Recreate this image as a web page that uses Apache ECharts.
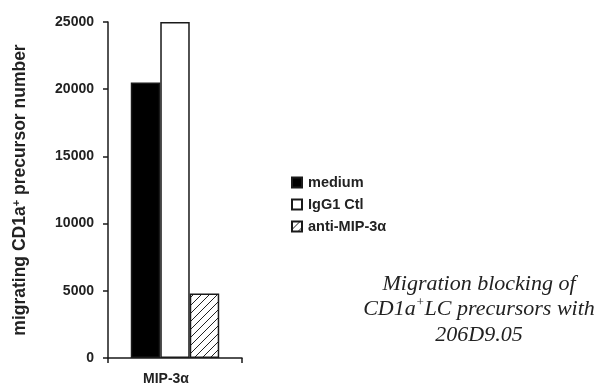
<!DOCTYPE html>
<html>
<head>
<meta charset="utf-8">
<script src="https://cdn.jsdelivr.net/npm/echarts@6/dist/echarts.min.js"></script>
<style>html,body{margin:0;padding:0;background:#fff;}#c{width:603px;height:387px;}</style>
</head>
<body>
<div id="c"></div>
<script>
const categories = ['MIP-3α'];
const seriesNames = ['medium', 'IgG1 Ctl', 'anti-MIP-3α'];
const mediumValues = [20500];
const iggValues = [25000];
const antiValues = [4800];
const yTicks = [0, 5000, 10000, 15000, 20000, 25000];

function hatch() {
  const s = 8;
  const cv = document.createElement('canvas');
  cv.width = s; cv.height = s;
  const ctx = cv.getContext('2d');
  ctx.fillStyle = '#fff';
  ctx.fillRect(0, 0, s, s);
  ctx.strokeStyle = '#222';
  ctx.lineWidth = 1;
  ctx.beginPath();
  ctx.moveTo(0, s); ctx.lineTo(s, 0);
  ctx.moveTo(-s / 2, s / 2); ctx.lineTo(s / 2, -s / 2);
  ctx.moveTo(s / 2, s * 1.5); ctx.lineTo(s * 1.5, s / 2);
  ctx.stroke();
  return { image: cv, repeat: 'repeat' };
}

const chart = echarts.init(document.getElementById('c'), null, { renderer: 'canvas' });
const sans = 'Liberation Sans, Arial, sans-serif';
const border = { borderColor: '#1a1a1a', borderWidth: 1.5 };
chart.setOption({
  animation: false,
  backgroundColor: '#fff',
  grid: { left: 108, right: 361, top: 22, bottom: 29, containLabel: false },
  title: {
    text: 'Migration blocking of\nCD1a{sup|+}LC precursors with\n206D9.05',
    left: 474, top: 266, textAlign: 'center',
    textStyle: {
      fontFamily: 'Liberation Serif, Times New Roman, serif',
      fontStyle: 'italic', fontWeight: 'normal', fontSize: 22, lineHeight: 25.5, color: '#222',
      rich: {
        sup: { fontFamily: 'Liberation Serif, serif', fontStyle: 'italic', fontSize: 13, verticalAlign: 'top', lineHeight: 25.5, padding: [0, 0, 7, 0], color: '#222' }
      }
    }
  },
  legend: {
    orient: 'vertical', left: 286, top: 170,
    itemWidth: 10, itemHeight: 10, itemGap: 7,
    icon: 'rect',
    data: seriesNames,
    textStyle: { fontFamily: sans, fontWeight: 'bold', fontSize: 14.5, color: '#222', padding: [0, 0, 0, 1] }
  },
  xAxis: {
    type: 'category', data: categories,
    axisLine: { lineStyle: { color: '#1a1a1a', width: 1.5 } },
    axisTick: { show: true, length: 5, lineStyle: { color: '#1a1a1a', width: 1.5 } },
    axisLabel: { margin: 14, fontFamily: sans, fontWeight: 'bold', fontSize: 14, color: '#222', padding: [0, 18, 0, 0] }
  },
  yAxis: {
    type: 'value', min: yTicks[0], max: yTicks[yTicks.length - 1], interval: yTicks[1] - yTicks[0],
    name: 'migrating CD1a{sup|+} precursor number',
    nameLocation: 'middle', nameRotate: 90, nameGap: 79,
    nameTextStyle: {
      fontFamily: sans, fontWeight: 'bold', fontSize: 17.5, color: '#222',
      rich: { sup: { fontFamily: sans, fontWeight: 'bold', fontSize: 11, verticalAlign: 'top', padding: [0, 0, 6, 0], color: '#222' } }
    },
    splitLine: { show: false },
    axisLine: { show: true, lineStyle: { color: '#1a1a1a', width: 1.5 } },
    axisTick: { show: true, length: 5, lineStyle: { color: '#1a1a1a', width: 1.5 } },
    axisLabel: { margin: 14, fontFamily: sans, fontWeight: 'bold', fontSize: 14, color: '#222', formatter: function (v) { return String(v); } }
  },
  series: [
    { name: seriesNames[0], type: 'bar', data: mediumValues, barGap: '0%', barCategoryGap: '34%', itemStyle: Object.assign({ color: '#000' }, border) },
    { name: seriesNames[1], type: 'bar', data: iggValues, barGap: '0%', barCategoryGap: '34%', itemStyle: Object.assign({ color: '#fff' }, border) },
    { name: seriesNames[2], type: 'bar', data: antiValues, barGap: '0%', barCategoryGap: '34%', itemStyle: Object.assign({ color: hatch() }, border) }
  ]
});
</script>
</body>
</html>
